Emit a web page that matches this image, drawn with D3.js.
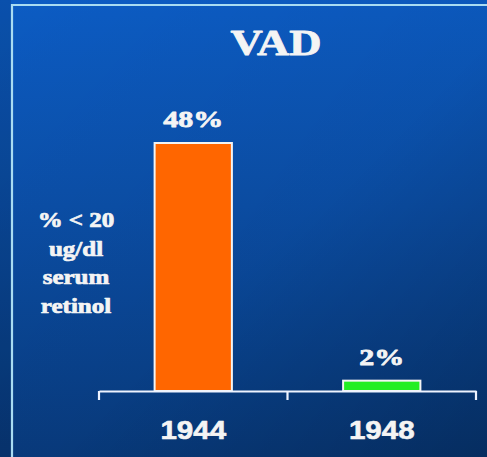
<!DOCTYPE html>
<html>
<head>
<meta charset="utf-8">
<script src="https://cdn.jsdelivr.net/npm/d3@7"></script>
<style>
  html, body { margin: 0; padding: 0; background: #0a4590; }
  svg { display: block; }
</style>
</head>
<body>
<div id="chart"></div>
<script>
// values
const years = ["1944", "1948"];
const percentVAD = [48, 2];
const barColors = ["#ff6600", "#22ee22"];
const yLabelLines = ["% < 20", "ug/dl", "serum", "retinol"];
const title = "VAD";

const width = 487, height = 457;

const svg = d3.select("#chart").append("svg")
    .attr("width", width)
    .attr("height", height);

const defs = svg.append("defs");

// slide background: bright blue at top, darker toward the bottom
const bg = defs.append("linearGradient")
    .attr("id", "bg")
    .attr("x1", 0).attr("y1", 0).attr("x2", 0).attr("y2", 1);
bg.append("stop").attr("offset", "0%").attr("stop-color", "#0c5cc4");
bg.append("stop").attr("offset", "45%").attr("stop-color", "#0b4fa8");
bg.append("stop").attr("offset", "100%").attr("stop-color", "#083c80");

const shade = defs.append("linearGradient")
    .attr("id", "shade")
    .attr("x1", 0).attr("y1", 0).attr("x2", 1).attr("y2", 1);
shade.append("stop").attr("offset", "0%").attr("stop-color", "#000").attr("stop-opacity", 0);
shade.append("stop").attr("offset", "55%").attr("stop-color", "#000").attr("stop-opacity", 0.05);
shade.append("stop").attr("offset", "100%").attr("stop-color", "#000").attr("stop-opacity", 0.25);

svg.append("rect").attr("width", width).attr("height", height).attr("fill", "url(#bg)");
svg.append("rect").attr("width", width).attr("height", height).attr("fill", "url(#shade)");
// darker strip left of the frame
svg.append("rect").attr("width", 11).attr("height", height).attr("fill", "#000").attr("opacity", 0.12);

// light frame (top and left edges)
svg.append("path")
    .attr("d", `M12,${height} L12,5 L${width},5`)
    .attr("fill", "none")
    .attr("stroke", "#a9dcf2")
    .attr("stroke-width", 2.2);

// scales
const x = d3.scaleBand()
    .domain(years)
    .range([99, 476])
    .paddingInner(0.59)
    .paddingOuter(0.295);

const y = d3.scaleLinear()
    .domain([0, d3.max(percentVAD)])
    .range([391, 143]);

const data = years.map((yr, i) => ({ year: yr, value: percentVAD[i], color: barColors[i] }));

// stretched heavy text like the slide
function label(g, txt, cx, cy, size, family, sx, sw) {
    return g.append("text")
        .attr("transform", `translate(${cx},${cy}) scale(${sx},1)`)
        .attr("text-anchor", "middle")
        .attr("font-family", family)
        .attr("font-weight", "bold")
        .attr("font-size", size)
        .attr("fill", "#f4f4f4")
        .attr("stroke", "#f4f4f4")
        .attr("stroke-width", sw)
        .attr("stroke-linejoin", "round")
        .text(txt);
}

const serif = "'Liberation Serif', 'Times New Roman', serif";
const sans = "'Liberation Sans', Arial, sans-serif";

// title
label(svg, title, 276, 55, 36, serif, 1.24, 0.8);

// bars
svg.selectAll("rect.bar")
    .data(data)
    .join("rect")
    .attr("class", "bar")
    .attr("x", d => x(d.year))
    .attr("y", d => y(d.value))
    .attr("width", x.bandwidth())
    .attr("height", d => y(0) - y(d.value))
    .attr("fill", d => d.color)
    .attr("stroke", "#f4f4f4")
    .attr("stroke-width", 2);

// value labels
data.forEach(d => {
    label(svg, d.value + "%", x(d.year) + x.bandwidth() / 2, y(d.value) - 16, 24, serif, 1.25, 0.8);
});

// axis line + ticks at band boundaries
const axis = svg.append("g")
    .attr("transform", `translate(0,${y(0)})`)
    .call(d3.axisBottom(x).tickSize(0).tickFormat(""));
axis.select(".domain").attr("stroke", "#eef3ff").attr("stroke-width", 2.2);

const bounds = d3.range(years.length + 1).map(i => x.range()[0] + i * x.step());
svg.selectAll("line.tick")
    .data(bounds)
    .join("line")
    .attr("class", "tick")
    .attr("x1", d => d).attr("x2", d => d)
    .attr("y1", y(0)).attr("y2", y(0) + 9)
    .attr("stroke", "#eef3ff")
    .attr("stroke-width", 2.2);

// year labels
years.forEach(yr => {
    label(svg, yr, x(yr) + x.bandwidth() / 2, 439, 25, sans, 1.18, 0.6);
});

// y label block on the left
yLabelLines.forEach((t, i) => {
    label(svg, t, 76, 227 + i * 28.7, 20, serif, 1.25, 0.7);
});
</script>
</body>
</html>
